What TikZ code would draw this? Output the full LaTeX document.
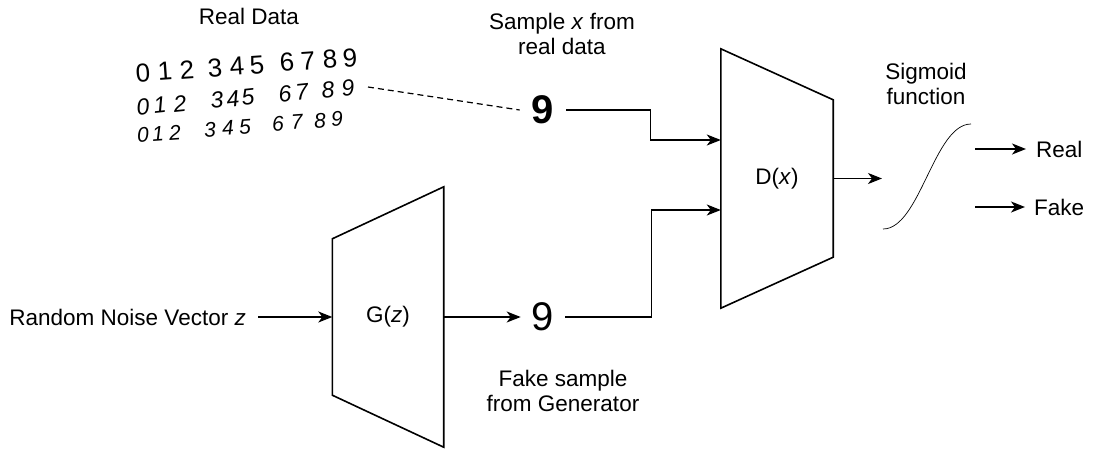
\documentclass[tikz,border=0pt]{standalone}
\usepackage{fontspec}
\setmainfont{Liberation Sans}
\usetikzlibrary{arrows.meta,calc}
\begin{document}
\begin{tikzpicture}[x=1pt,y=-1pt,
  lbl/.style={font=\fontsize{22.5}{24.5}\selectfont, inner sep=0pt, align=center},
  arr/.style={line width=1.5pt, -{Stealth[length=14pt,width=11pt,inset=4pt]}},
  trap/.style={line width=1.6pt, line join=miter},
  digA/.style={font=\fontsize{26}{26}\selectfont, inner sep=0pt, rotate=4},
  digB/.style={font=\fontsize{23}{23}\selectfont\itshape, inner sep=0pt, rotate=6},
  digC/.style={font=\fontsize{21}{21}\selectfont\itshape, inner sep=0pt, rotate=4},
  dashln/.style={line width=1.2pt, dash pattern=on 6pt off 4pt}
]
\useasboundingbox (0,0) rectangle (1097,450);

% Real data label and digit rows
\node[lbl] (realdata) at (249,16) {Real Data};
\foreach \d/\x in {0/143,1/165,2/187,3/215,4/237,5/257,6/287,7/308,8/330,9/350}
  {\node[digA] (ra\d) at (\x,{73-15*(\x-143)/207}) {\d};}
\foreach \d/\x in {0/143,1/160,2/180,3/217,4/233,5/248,6/285,7/302,8/328,9/348}
  {\node[digB] (rb\d) at (\x,{107-19*(\x-143)/205}) {\d};}
\foreach \d/\x in {0/143,1/158,2/175,3/210,4/228,5/245,6/278,7/297,8/320,9/337}
  {\node[digC] (rc\d) at (\x,{135-16*(\x-143)/194}) {\d};}

% Generator
\node[lbl, minimum width=111pt, minimum height=260pt] (G) at (388,317) {G(\textit{z})};
\draw[trap] (G.north east) -- (G.south east) -- ($(G.south west)+(0,-52)$)
  -- ($(G.north west)+(0,52)$) -- cycle;

% Discriminator
\node[lbl, minimum width=112pt, minimum height=259pt] (D) at (777,178.5) {D(\textit{x})};
\draw[trap] (D.north west) -- ($(D.north east)+(0,51)$) -- ($(D.south east)+(0,-51)$)
  -- (D.south west) -- cycle;

% noise input
\node[lbl, anchor=east, inner xsep=12pt] (noise) at (258,317) {Random Noise Vector \textit{z}};
\draw[arr] (noise.east) -- (G.west);

% samples
\node[font=\fontsize{40}{40}\selectfont\bfseries, inner xsep=12pt, inner ysep=0pt] (n1) at (543,110) {9};
\node[font=\fontsize{40}{40}\selectfont, inner xsep=11pt, inner ysep=0pt] (n2) at (543,317) {9};
\node[lbl] (samplelbl) at (562,34) {Sample \textit{x} from\\real data};
\node[lbl] (fakelbl) at (563,391) {Fake sample\\from Generator};

\coordinate (dstart) at (368,87);
\draw[dashln] (dstart) -- (n1.west);

\draw[arr] (G.east) -- (n2.west);

\coordinate (Din1) at ($(D.west)+(0,-38.5)$);
\coordinate (Din2) at ($(D.west)+(0,31.5)$);
\draw[arr] (n1.east) -- ++(84,0) |- (Din1);
\draw[arr] (n2.east) -- ++(86,0) |- (Din2);

% sigmoid
\coordinate (sigin) at (882,178.5);
\draw[arr] (D.east) -- (sigin);
\coordinate (s0) at (883,229);
\coordinate (s1) at (971,124);
\draw[line width=0.7pt] (s0) .. controls (920,229) and (934,124) .. (s1);
\node[lbl] (siglbl) at (926,84) {Sigmoid\\function};

% outputs
\node[lbl, anchor=west, inner xsep=10pt] (real) at (1026,149) {Real};
\node[lbl, anchor=west, inner xsep=9pt] (fake) at (1025,207) {Fake};
\coordinate (r0) at (975,149);
\coordinate (f0) at (975,207);
\draw[arr] (r0) -- (real.west);
\draw[arr] (f0) -- (fake.west);
\end{tikzpicture}
\end{document}
